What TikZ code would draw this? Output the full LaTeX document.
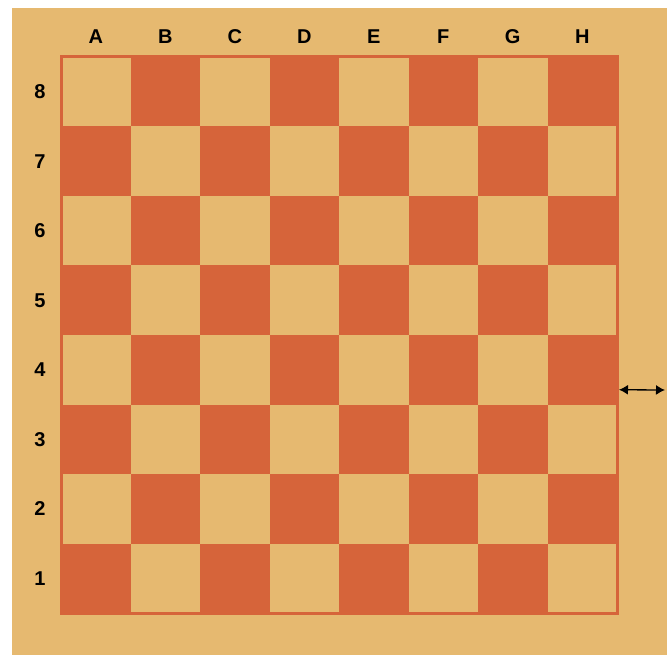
\documentclass[tikz,border=0pt]{standalone}
\usepackage{fontspec}
\setmainfont{Liberation Sans}
\usepackage{tikz}
\usetikzlibrary{positioning,arrows.meta}
\definecolor{boardtan}{RGB}{230,185,112}
\definecolor{squarered}{RGB}{214,100,58}

\begin{document}
\begin{tikzpicture}[x=1pt,y=-1pt,
    sq/.style={minimum size=69.5pt,inner sep=0pt,outer sep=0pt},
    lightsq/.style={sq,fill=boardtan},
    darksq/.style={sq,fill=squarered},
    lbl/.style={font=\bfseries\fontsize{20}{20}\selectfont,inner sep=0pt}]
        \useasboundingbox (0,0) rectangle (667,655);
        \fill[boardtan] (12,8) rectangle (667,655);
        % squares, file by file
        \foreach \col [count=\i from 0] in {A,B,C,D,E,F,G,H} {
            \foreach \row [count=\j from 0] in {8,7,6,5,4,3,2,1} {
                \pgfmathtruncatemacro\shade{mod(\i+\j,2)}
                \ifnum\shade=0
                    \node[lightsq] (\col\row) at ({61+69.5*(\i+0.5)},{57+69.5*(\j+0.5)}) {};
                \else
                    \node[darksq] (\col\row) at ({61+69.5*(\i+0.5)},{57+69.5*(\j+0.5)}) {};
                \fi
            }
            \node[lbl] (file-\col) at ({61+69.5*(\i+0.5)},37) {\col};
        }
        \foreach \row [count=\j from 0] in {8,7,6,5,4,3,2,1}
            \node[lbl] (rank-\row) at (40,{57+69.5*(\j+0.5)}) {\row};
        \draw[squarered,line width=3pt] (A8.north west) rectangle (H1.south east);
        \coordinate (arrowend) at (665,390);
        \draw[{Latex[length=9pt,width=10pt]}-{Latex[length=9pt,width=10pt]},line width=1.3pt]
            ([xshift=2pt,yshift=-20pt]H4.east) -- (arrowend);
    \end{tikzpicture}
\end{document}
